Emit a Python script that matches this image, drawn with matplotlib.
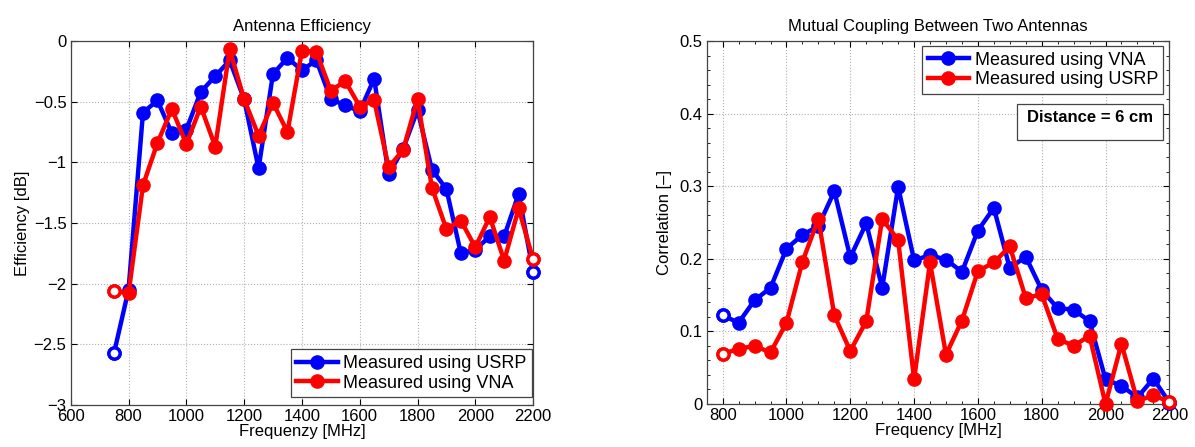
import numpy as np
import matplotlib.pyplot as plt
from matplotlib.patches import Rectangle
from matplotlib.ticker import MultipleLocator

plt.rcParams['font.family'] = ['Liberation Sans', 'DejaVu Sans']

# efficiency measurements, 750-2200 MHz in 50 MHz steps
freq_eff = np.arange(750, 2201, 50)
eff_usrp = [-2.57, -2.05, -0.59, -0.49, -0.76, -0.73, -0.42, -0.29, -0.16, -0.48,
            -1.05, -0.27, -0.14, -0.24, -0.16, -0.48, -0.53, -0.58, -0.31, -1.10,
            -0.89, -0.57, -1.06, -1.22, -1.75, -1.72, -1.61, -1.61, -1.26, -1.90]
eff_vna = [-2.06, -2.08, -1.19, -0.84, -0.56, -0.85, -0.54, -0.87, -0.07, -0.48,
           -0.78, -0.51, -0.75, -0.08, -0.09, -0.41, -0.33, -0.54, -0.49, -1.04,
           -0.90, -0.48, -1.21, -1.55, -1.48, -1.70, -1.45, -1.81, -1.38, -1.80]

# correlation between the two antennas, 800-2200 MHz
freq_corr = np.arange(800, 2201, 50)
corr_vna = [0.122, 0.112, 0.143, 0.160, 0.214, 0.233, 0.245, 0.293, 0.202, 0.249,
            0.160, 0.299, 0.198, 0.205, 0.199, 0.182, 0.239, 0.270, 0.187, 0.203,
            0.157, 0.132, 0.130, 0.114, 0.034, 0.025, 0.009, 0.035, 0.002]
corr_usrp = [0.069, 0.076, 0.080, 0.071, 0.112, 0.196, 0.255, 0.122, 0.073, 0.114,
             0.255, 0.226, 0.034, 0.195, 0.068, 0.115, 0.183, 0.195, 0.217, 0.146,
             0.151, 0.090, 0.080, 0.094, 0.000, 0.083, 0.004, 0.012, 0.003]

BLUE = '#0000ff'
RED = '#ff0000'
LW = 3.2
MS = 9.5
FS = 12


def draw_series(ax, x, y, color, label):
    ax.plot(x, y, '-o', color=color, lw=LW, ms=MS, label=label, clip_on=False, zorder=3)
    # end points drawn as open circles
    ax.plot([x[0], x[-1]], [y[0], y[-1]], 'o', color=color, mfc='white', ms=MS - 1.5,
            mew=2.4, clip_on=False, zorder=3)


def style_axes(ax):
    ax.grid(True, ls=':', color='#b0b0b0', lw=0.8)
    ax.tick_params(direction='in', top=True, right=True, labelsize=FS, length=4, pad=3)
    ax.tick_params(which='minor', direction='in', top=True, right=True, length=2.5)
    for s in ax.spines.values():
        s.set_color('#444444')
        s.set_linewidth(0.9)


def add_legend(ax, loc, anchor):
    leg = ax.legend(loc=loc, bbox_to_anchor=anchor, fontsize=13, fancybox=False,
                    framealpha=1, edgecolor='#444444', borderaxespad=0,
                    handlelength=2.3, handletextpad=0.3, borderpad=0.3,
                    labelspacing=0.15)
    leg.get_frame().set_linewidth(0.9)


fig = plt.figure(figsize=(11.95, 4.47), dpi=100)

ax1 = fig.add_axes([0.0592, 0.094, 0.3869, 0.8143])
draw_series(ax1, freq_eff, eff_usrp, BLUE, 'Measured using USRP')
draw_series(ax1, freq_eff, eff_vna, RED, 'Measured using VNA')
ax1.set_xlim(600, 2200)
ax1.set_ylim(-3, 0)
ax1.set_xticks(np.arange(600, 2201, 200))
ax1.set_yticks([-3, -2.5, -2, -1.5, -1, -0.5, 0])
ax1.set_yticklabels(['\u22123', '\u22122.5', '\u22122', '\u22121.5', '\u22121', '\u22120.5', '0'])
style_axes(ax1)
ax1.set_title('Antenna Efficiency', fontsize=FS, pad=7)
ax1.set_xlabel('Frequenzy [MHz]', fontsize=FS, labelpad=0)
ax1.set_ylabel('Efficiency [dB]', fontsize=FS, labelpad=3)
add_legend(ax1, 'lower right', (0.998, 0.022))

ax2 = fig.add_axes([0.5914, 0.0962, 0.3871, 0.812])
draw_series(ax2, freq_corr, corr_vna, BLUE, 'Measured using VNA')
draw_series(ax2, freq_corr, corr_usrp, RED, 'Measured using USRP')
ax2.set_xlim(750, 2200)
ax2.set_ylim(0, 0.5)
ax2.set_xticks(np.arange(800, 2201, 200))
ax2.set_yticks([0, 0.1, 0.2, 0.3, 0.4, 0.5])
ax2.set_yticklabels(['0', '0.1', '0.2', '0.3', '0.4', '0.5'])
ax2.xaxis.set_minor_locator(MultipleLocator(50))
ax2.yaxis.set_minor_locator(MultipleLocator(0.02))
style_axes(ax2)
ax2.set_title('Mutual Coupling Between Two Antennas', fontsize=FS, pad=7)
ax2.set_xlabel('Frequency [MHz]', fontsize=FS, labelpad=0)
ax2.set_ylabel('Correlation [\u2013]', fontsize=FS, labelpad=5)
add_legend(ax2, 'upper right', (0.987, 0.986))

ax2.add_patch(Rectangle((0.671, 0.727), 0.315, 0.099, transform=ax2.transAxes,
                        fill=True, facecolor='white', edgecolor='#444444', lw=0.9, zorder=5))
ax2.text(0.828, 0.79, 'Distance = 6 cm', transform=ax2.transAxes, ha='center',
         va='center', fontsize=12, fontweight='bold', zorder=6)

fig.savefig('out.png', dpi=100)
